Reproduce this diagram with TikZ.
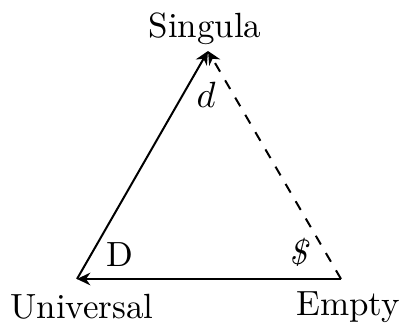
\documentclass[tikz,border=0pt]{standalone}
\usepackage{fontspec}
\usetikzlibrary{positioning,arrows.meta}

\tikzset{
  edge/.style={semithick, -{Stealth[length=4pt,width=3.8pt]}},
  vlabel/.style={inner sep=0pt, anchor=base, font=\fontsize{10.5}{12}\selectfont}
}

\begin{document}
\begin{tikzpicture}[x=0.3pt, y=-0.3pt]
\useasboundingbox (0,0) rectangle (400,327);

% Vertices
\coordinate (sing) at (208,51);
\coordinate (univ) at (77,279);
\coordinate (empty) at (341,279);

% Vertex labels
\node[vlabel] (singtxt) at (205,38) {Singula};
\node[vlabel] (univtxt) at (82,319) {Universal};
\node[vlabel] (emptytxt) at (348,316) {Empty};

% Edges
\draw[edge] (univ) -- (sing);
\draw[edge, dashed] (empty) -- (sing);
\draw[edge] (empty) -- (univ);

% Edge labels
\node[vlabel] (dlab) at (206,108) {$d$};
\node[vlabel] (Dlab) at (120,267) {D};
\node[vlabel] (slab) at (300,265) {\textit{\$}};
\end{tikzpicture}
\end{document}
